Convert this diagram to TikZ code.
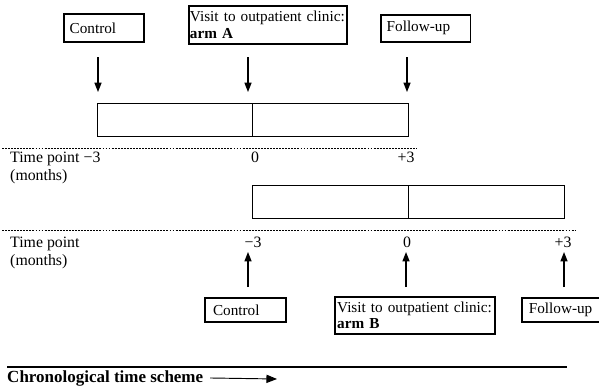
\documentclass[tikz,border=0pt]{standalone}
\usepackage{fontspec}
\setmainfont{Liberation Serif}
\usetikzlibrary{arrows.meta}

\begin{document}
\begin{tikzpicture}[
  x=0.03cm, y=-0.03cm,
  event/.style={draw, line width=1.4pt, anchor=north west, inner xsep=#1,
    inner ysep=0pt, align=left, font=\fontsize{13}{14}\selectfont},
  event/.default=5pt,
  period/.style={draw, line width=0.7pt, anchor=north west, inner sep=0pt,
    minimum height=1cm},
  tick/.style={anchor=base, inner sep=0pt, font=\fontsize{13.5}{15}\selectfont},
  axis/.style={anchor=base west, inner sep=0pt, font=\fontsize{13.5}{15}\selectfont},
  arr/.style={line width=1.1pt, -{Triangle[width=6pt,length=8pt]}},
  sep/.style={line width=0.7pt, dash pattern=on 1.6pt off 1pt}
]
\useasboundingbox (0,0) rectangle (599,388);

% arm A: event boxes
\node[event, text width=2.05cm, minimum height=0.84cm] (ctrlA) at (63,13) {Control};
\node[event=1pt, text width=4.68cm, minimum height=1.14cm] (visitA) at (188,5)
  {Visit to outpatient clinic:\\\textbf{arm A}};
\node[event, text width=2.34cm, minimum height=0.81cm] (folA) at (380,14) {Follow-up};

% arm A: periods
\node[period, minimum width=4.65cm] (barA1) at (97,103) {};
\node[period, minimum width=4.68cm] (barA2) at (252,103) {};

\coordinate (a1) at (98,57);
\coordinate (a2) at (248,57);
\coordinate (a3) at (407,57);
\draw[arr] (a1) -- ++(0,35);
\draw[arr] (a2) -- ++(0,35);
\draw[arr] (a3) -- ++(0,35);

\draw[sep] (2,148) -- (417,148);

% arm A: time axis
\node[axis] (tpA) at (10,162) {Time point};
\node[axis] (moA) at (10,180) {(months)};
\node[tick] (tA1) at (92,162) {−3};
\node[tick] (tA2) at (255,162) {0};
\node[tick] (tA3) at (406,162) {+3};

% arm B: periods
\node[period, minimum width=4.68cm] (barB1) at (252,185) {};
\node[period, minimum width=4.68cm] (barB2) at (408,185) {};

\draw[sep] (2,230) -- (575,230);

% arm B: time axis
\node[axis] (tpB) at (10,247) {Time point};
\node[axis] (moB) at (10,265) {(months)};
\node[tick] (tB1) at (253,247) {−3};
\node[tick] (tB2) at (407,247) {0};
\node[tick] (tB3) at (563,247) {+3};

% arm B: event boxes
\node[event=7pt, text width=1.95cm, minimum height=0.72cm] (ctrlB) at (204,297) {Control};
\node[event=2pt, text width=4.66cm, minimum height=1.11cm] (visitB) at (334,296)
  {Visit to outpatient clinic:\\\textbf{arm B}};
\node[event=6pt, text width=1.92cm, minimum height=0.72cm] (folB) at (521,297) {Follow-up};

\coordinate (b1) at (248,287);
\coordinate (b2) at (406,287);
\coordinate (b3) at (564,287);
\draw[arr] (b1) -- ++(0,-35);
\draw[arr] (b2) -- ++(0,-35);
\draw[arr] (b3) -- ++(0,-35);

% chronology
\draw[line width=2pt] (7,367) -- (567,367);
\node[anchor=base west, inner sep=0pt, font=\fontsize{14.5}{17}\selectfont\bfseries]
  (chrono) at (7,382) {Chronological time scheme};
\draw[line width=0.8pt, -{Triangle[width=7pt,length=9pt]}]
  ([xshift=0.2cm]chrono.east) -- (277,379);
\end{tikzpicture}
\end{document}
